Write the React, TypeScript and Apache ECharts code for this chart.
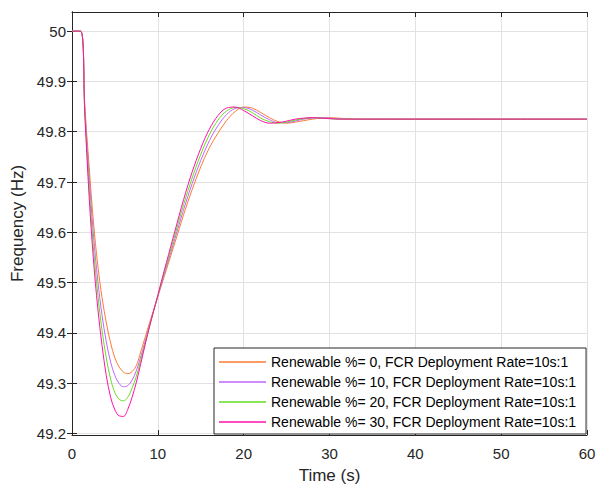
import { useEffect, useRef } from 'react';
import * as echarts from 'echarts';

// Time samples (s)
const TIME = [
  0, 1, 1.5, 2, 2.5, 3, 3.5, 4, 4.5, 5, 5.5, 6, 6.5, 7, 7.5, 8, 8.5, 9, 9.5, 10, 10.5, 11,
  12, 13, 14, 15, 16, 17, 18, 19, 20, 21, 22, 23, 24, 25, 26, 27, 28, 29, 30, 31, 32,
  34, 40, 50, 60,
];

// Frequency (Hz) for each renewable share
const FREQ_R0 = [
  50, 50, 49.85, 49.73, 49.62, 49.535, 49.47, 49.42, 49.38, 49.35, 49.332, 49.322, 49.319, 49.323, 49.335, 49.362, 49.39, 49.418, 49.445, 49.472, 49.499, 49.526,
  49.58, 49.635, 49.685, 49.73, 49.768, 49.797, 49.822, 49.84, 49.849, 49.847, 49.838, 49.828, 49.82, 49.817, 49.819, 49.822, 49.825, 49.827, 49.828, 49.827, 49.826,
  49.825, 49.825, 49.825, 49.825,
];
const FREQ_R10 = [
  50, 50, 49.843, 49.71, 49.595, 49.505, 49.435, 49.382, 49.342, 49.315, 49.299, 49.293, 49.295, 49.306, 49.325, 49.352, 49.382, 49.413, 49.443, 49.473, 49.502, 49.531,
  49.588, 49.645, 49.697, 49.743, 49.782, 49.812, 49.834, 49.846, 49.848, 49.843, 49.833, 49.824, 49.818, 49.818, 49.821, 49.825, 49.827, 49.828, 49.827, 49.826, 49.825,
  49.825, 49.825, 49.825, 49.825,
];
const FREQ_R20 = [
  50, 50, 49.837, 49.69, 49.57, 49.478, 49.405, 49.35, 49.308, 49.281, 49.268, 49.265, 49.272, 49.29, 49.314, 49.345, 49.378, 49.411, 49.443, 49.474, 49.505, 49.535,
  49.595, 49.655, 49.708, 49.755, 49.794, 49.823, 49.841, 49.848, 49.846, 49.838, 49.827, 49.82, 49.817, 49.819, 49.823, 49.826, 49.828, 49.827, 49.826, 49.825, 49.825,
  49.825, 49.825, 49.825, 49.825,
];
const FREQ_R30 = [
  50, 50, 49.83, 49.67, 49.545, 49.45, 49.375, 49.315, 49.272, 49.247, 49.235, 49.234, 49.248, 49.272, 49.302, 49.338, 49.375, 49.41, 49.443, 49.475, 49.508, 49.54,
  49.603, 49.665, 49.72, 49.767, 49.805, 49.832, 49.847, 49.849, 49.842, 49.832, 49.822, 49.817, 49.818, 49.821, 49.825, 49.827, 49.828, 49.827, 49.826, 49.825, 49.825,
  49.825, 49.825, 49.825, 49.825,
];

const SERIES_NAMES = [
  'Renewable %= 0, FCR Deployment Rate=10s:1',
  'Renewable %= 10, FCR Deployment Rate=10s:1',
  'Renewable %= 20, FCR Deployment Rate=10s:1',
  'Renewable %= 30, FCR Deployment Rate=10s:1',
];
const SERIES_VALUES = [FREQ_R0, FREQ_R10, FREQ_R20, FREQ_R30];
const SERIES_COLORS = ['#ff7a33', '#c066ff', '#66dd22', '#ff10a8'];

const Y_TICKS = [49.2, 49.3, 49.4, 49.5, 49.6, 49.7, 49.8, 49.9, 50];
const X_MIN = 0;
const X_MAX = 60;
const X_STEP = 10;
const Y_MIN = 49.197;
const Y_MAX = 50.038;

const FONT = "'Liberation Sans', Arial, Helvetica, sans-serif";
const AXIS_COLOR = '#262626';
const GRID_COLOR = '#e2e2e2';

export default function App() {
  const ref = useRef<HTMLDivElement>(null);

  useEffect(() => {
    if (!ref.current) return;
    const chart = echarts.init(ref.current, null, { renderer: 'svg' });

    const series = SERIES_NAMES.map((name, i) => ({
      name,
      type: 'line',
      xAxisIndex: 0,
      yAxisIndex: 0,
      data: TIME.map((t, k) => [t, SERIES_VALUES[i][k]]),
      showSymbol: false,
      symbol: 'none',
      smooth: 0.35,
      lineStyle: { width: 1, color: SERIES_COLORS[i] },
      itemStyle: { color: SERIES_COLORS[i] },
      emphasis: { disabled: true },
    }));

    const tickLabelStyle = { fontSize: 15, color: AXIS_COLOR, fontFamily: FONT };

    chart.setOption({
      animation: false,
      backgroundColor: '#ffffff',
      grid: { left: 72, right: 15, top: 12, bottom: 51, containLabel: false, outerBoundsMode: 'none' },
      xAxis: [
        {
          type: 'value',
          min: X_MIN,
          max: X_MAX,
          interval: X_STEP,
          position: 'bottom',
          axisLine: { show: true, lineStyle: { color: AXIS_COLOR, width: 1 } },
          axisTick: { show: true, inside: true, length: 5, lineStyle: { color: AXIS_COLOR } },
          axisLabel: { ...tickLabelStyle, margin: 11 },
          splitLine: { show: true, lineStyle: { color: GRID_COLOR, width: 1 } },
          name: 'Time (s)',
          nameLocation: 'middle',
          nameGap: 32,
          nameTextStyle: { fontSize: 17, color: AXIS_COLOR, fontFamily: FONT },
        },
        {
          type: 'value',
          min: X_MIN,
          max: X_MAX,
          interval: X_STEP,
          position: 'top',
          axisLine: { show: true, lineStyle: { color: AXIS_COLOR, width: 1 } },
          axisTick: { show: true, inside: true, length: 5, lineStyle: { color: AXIS_COLOR } },
          axisLabel: { show: false },
          splitLine: { show: false },
        },
      ],
      yAxis: [
        {
          type: 'value',
          min: Y_MIN,
          max: Y_MAX,
          position: 'left',
          axisLine: { show: true, lineStyle: { color: AXIS_COLOR, width: 1 } },
          axisTick: { show: true, inside: true, length: 5, customValues: Y_TICKS, lineStyle: { color: AXIS_COLOR } },
          axisLabel: {
            ...tickLabelStyle,
            margin: 6,
            customValues: Y_TICKS,
            formatter: (v: number) => String(Math.round(v * 10) / 10),
          },
          splitLine: { show: true, lineStyle: { color: GRID_COLOR, width: 1 } },
          name: 'Frequency (Hz)',
          nameLocation: 'middle',
          nameGap: 35,
          nameTextStyle: { fontSize: 17, color: AXIS_COLOR, fontFamily: FONT },
        },
        {
          type: 'value',
          min: Y_MIN,
          max: Y_MAX,
          position: 'right',
          axisLine: { show: true, lineStyle: { color: AXIS_COLOR, width: 1 } },
          axisTick: { show: true, inside: true, length: 5, customValues: Y_TICKS, lineStyle: { color: AXIS_COLOR } },
          axisLabel: { show: false, customValues: Y_TICKS },
          splitLine: { show: false },
        },
      ],
      legend: {
        orient: 'vertical',
        left: 214,
        top: 348,
        padding: [6, 10, 4, 5],
        icon: 'rect',
        itemWidth: 47,
        itemHeight: 1.5,
        itemGap: 4,
        borderColor: AXIS_COLOR,
        borderWidth: 1,
        borderRadius: 0,
        backgroundColor: '#ffffff',
        selectedMode: false,
        data: SERIES_NAMES,
        textStyle: { fontSize: 14, color: '#000000', fontFamily: FONT, lineHeight: 16 },
      },
      series,
    });

    return () => chart.dispose();
  }, []);

  return (
    <div
      ref={ref}
      style={{ position: 'fixed', left: 0, top: 0, width: 602, height: 486, background: '#ffffff' }}
    />
  );
}
